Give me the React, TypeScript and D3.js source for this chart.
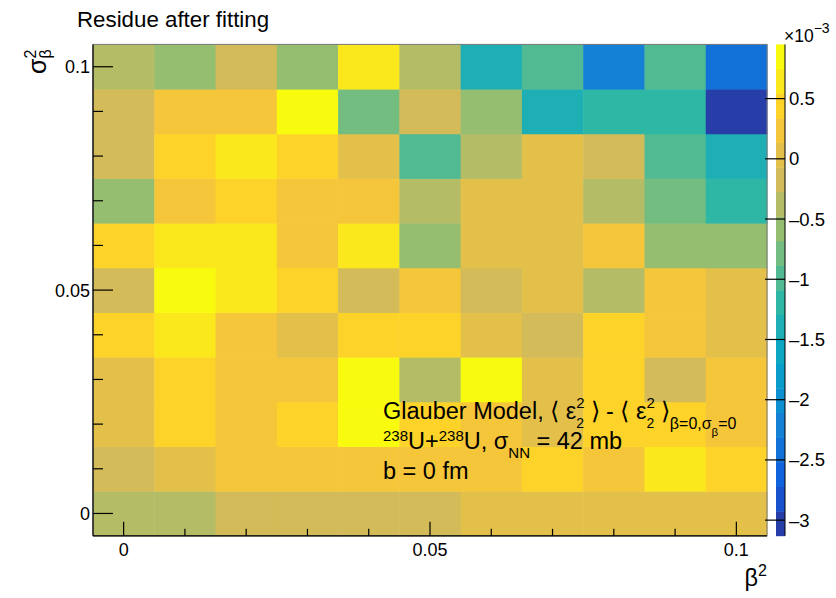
import React from "react";
import * as d3 from "d3";

const FONT = "'Liberation Sans', Arial, Helvetica, sans-serif";

// bin centres
const xBins = [0, 0.01, 0.02, 0.03, 0.04, 0.05, 0.06, 0.07, 0.08, 0.09, 0.1];
const yBins = [0, 0.01, 0.02, 0.03, 0.04, 0.05, 0.06, 0.07, 0.08, 0.09, 0.1];

// residue values (x 1e-3), one row per y bin, starting at y = 0
const row000 = [-0.37, -0.36, -0.18, -0.16, -0.17, -0.15, 0.02, 0.04, 0.03, 0.05, 0.02];
const row001 = [-0.17, 0.03, 0.23, 0.25, 0.24, 0.22, 0.26, 0.44, 0.25, 0.66, 0.45];
const row002 = [0.04, 0.43, 0.24, 0.45, 0.86, 0.44, 0.23, 0.02, 0.45, 0.43, 0.25];
const row003 = [0.03, 0.44, 0.25, 0.23, 0.88, -0.37, 0.87, 0.04, 0.46, -0.16, 0.24];
const row004 = [0.45, 0.64, 0.24, 0.03, 0.43, 0.44, 0.02, -0.17, 0.44, 0.25, 0.04];
const row005 = [-0.18, 0.95, 0.66, 0.45, -0.16, 0.24, -0.17, 0.03, -0.38, 0.23, 0.02];
const row006 = [0.44, 0.65, 0.64, 0.24, 0.66, -0.58, 0.03, 0.04, 0.25, -0.57, -0.59];
const row007 = [-0.58, 0.24, 0.45, 0.23, 0.25, -0.37, 0.03, 0.02, -0.38, -0.78, -1.19];
const row008 = [-0.17, 0.44, 0.65, 0.43, 0.03, -0.99, -0.37, 0.04, -0.18, -0.98, -1.4];
const row009 = [-0.16, 0.24, 0.25, 0.87, -0.78, -0.17, -0.58, -1.4, -1.19, -1.2, -3.13];
const row010 = [-0.37, -0.58, -0.17, -0.57, 0.66, -0.38, -1.41, -0.99, -2.21, -0.98, -2.42];
const rows = [row000, row001, row002, row003, row004, row005, row006, row007, row008, row009, row010];

const xTicksMajor = [0, 0.05, 0.1];
const xTickLabels = ["0", "0.05", "0.1"];
const yTicksMajor = [0, 0.05, 0.1];
const yTickLabels = ["0", "0.05", "0.1"];
const minorTicks = [0, 0.01, 0.02, 0.03, 0.04, 0.05, 0.06, 0.07, 0.08, 0.09, 0.1];
const zTicks = [0.5, 0, -0.5, -1, -1.5, -2, -2.5, -3];
const zTickLabels = ["0.5", "0", "\u20130.5", "\u20131", "\u20131.5", "\u20132", "\u20132.5", "\u20133"];

// kBird palette
const birdStops = [0, 0.125, 0.25, 0.375, 0.5, 0.625, 0.75, 0.875, 1];
const birdR = [0.2082, 0.0592, 0.078, 0.0232, 0.1802, 0.5301, 0.8186, 0.9956, 0.9764];
const birdG = [0.1664, 0.3599, 0.5041, 0.6419, 0.7178, 0.7492, 0.7328, 0.7862, 0.9832];
const birdB = [0.5293, 0.8684, 0.8385, 0.7914, 0.6425, 0.4662, 0.3499, 0.1968, 0.0539];
const NLEVELS = 20;
const NCOLORS = 255;

export default function App() {
  const W = 836, H = 598;
  const fx0 = 93, fx1 = 767, fy0 = 44.4, fy1 = 535.8;
  const x = d3.scaleLinear().domain([-0.005, 0.105]).range([fx0, fx1]);
  const y = d3.scaleLinear().domain([-0.005, 0.105]).range([fy1, fy0]);
  const all = rows.flat();
  const [zmin, zmax] = d3.extent(all) as [number, number];
  const z = d3.scaleLinear().domain([zmin, zmax]).range([fy1, fy0]);
  const grad = d3
    .scaleLinear<string>()
    .domain(birdStops)
    .range(birdStops.map((_, i) => d3.rgb(birdR[i] * 255, birdG[i] * 255, birdB[i] * 255).toString()))
    .interpolate(d3.interpolateRgb);
  const levelColor = (lvl: number) => {
    const idx = Math.floor((lvl + 0.99) * NCOLORS / NLEVELS);
    return grad(idx / (NCOLORS - 1));
  };
  const levelOf = (v: number) =>
    Math.max(0, Math.min(NLEVELS - 1, Math.floor(((v - zmin) / (zmax - zmin)) * NLEVELS)));
  const half = 0.005;
  const levels = d3.range(NLEVELS);
  const px0 = 776, px1 = 785;
  const TS = 18;
  const AS = 23.5;
  const SS = 15;

  return (
    <svg width={W} height={H} style={{ display: "block", position: "absolute", left: 0, top: 0 }} fontFamily={FONT}>
      <rect x={0} y={0} width={W} height={H} fill="#fff" />
      {/* cells */}
      {rows.map((r, j) =>
        r.map((v, i) => (
          <rect
            key={`c${i}-${j}`}
            x={x(xBins[i] - half)}
            y={y(yBins[j] + half)}
            width={x(xBins[i] + half) - x(xBins[i] - half) + 0.5}
            height={y(yBins[j] - half) - y(yBins[j] + half) + 0.5}
            fill={levelColor(levelOf(v))}
          />
        ))
      )}
      <rect x={fx0} y={fy0} width={fx1 - fx0} height={fy1 - fy0} fill="none" stroke="#777" strokeWidth={1} />
      {/* axes lines */}
      <line x1={fx0} x2={fx0} y1={fy0} y2={fy1} stroke="#000" strokeWidth={1.2} />
      <line x1={fx0} x2={fx1} y1={fy1} y2={fy1} stroke="#000" strokeWidth={1.2} />
      {/* x ticks */}
      {minorTicks.map((t) => (
        <line key={`xm${t}`} x1={x(t)} x2={x(t)} y1={fy1} y2={fy1 - (xTicksMajor.includes(t) ? 14 : 7)} stroke="#000" strokeWidth={1.2} />
      ))}
      {xTicksMajor.map((t, i) => (
        <text key={`xl${t}`} x={x(t)} y={556} fontSize={TS} textAnchor="middle">{xTickLabels[i]}</text>
      ))}
      {/* y ticks */}
      {minorTicks.map((t) => (
        <line key={`ym${t}`} x1={fx0} x2={fx0 + (yTicksMajor.includes(t) ? 20 : 10)} y1={y(t)} y2={y(t)} stroke="#000" strokeWidth={1.2} />
      ))}
      {yTicksMajor.map((t, i) => (
        <text key={`yl${t}`} x={90} y={y(t) + 6.5} fontSize={TS} textAnchor="end">{yTickLabels[i]}</text>
      ))}
      {/* palette */}
      {levels.map((l) => (
        <rect
          key={`p${l}`}
          x={px0}
          y={z(zmin + ((l + 1) * (zmax - zmin)) / NLEVELS)}
          width={px1 - px0}
          height={(fy1 - fy0) / NLEVELS + 0.4}
          fill={levelColor(l)}
        />
      ))}
      <line x1={px1} x2={px1} y1={fy0} y2={fy1} stroke="#000" strokeWidth={1} />
      {zTicks.map((t, i) => (
        <g key={`z${t}`}>
          <line x1={px1} x2={px1 - 20} y1={z(t)} y2={z(t)} stroke="#000" strokeWidth={1.2} />
          <text x={789} y={z(t) + 6.5} fontSize={18.5}>{zTickLabels[i]}</text>
        </g>
      ))}
      <text x={784} y={42} fontSize={17.5}>
        {"\u00d710"}
        <tspan dy={-9} fontSize={14}>{"\u22123"}</tspan>
      </text>
      {/* titles */}
      <text x={77} y={27} fontSize={22.3}>Residue after fitting</text>
      <text x={767} y={586} fontSize={23.5} textAnchor="end">
        {"\u03b2"}
        <tspan dy={-10} fontSize={16}>2</tspan>
      </text>
      <g transform={`translate(46, 50) rotate(-90)`}>
        <text x={0} y={0} fontSize={25}>
          <tspan x={-24}>{"\u03c3"}</tspan>
          <tspan dy={-10} fontSize={16}>2</tspan>
          <tspan dx={-8.9} dy={15} fontSize={16}>{"\u03b2"}</tspan>
        </text>
      </g>
      {/* annotation */}
      <g fontSize={AS}>
        <text x={383} y={419}>
          {"Glauber Model, \u27e8 \u03b5"}
          <tspan dy={-11} fontSize={SS}>2</tspan>
          <tspan dx={-8.3} dy={20} fontSize={14}>2</tspan>
          <tspan dy={-9} fontSize={AS}>{" \u27e9 - \u27e8 \u03b5"}</tspan>
          <tspan dy={-11} fontSize={SS}>2</tspan>
          <tspan dx={-8.3} dy={20} fontSize={14}>2</tspan>
          <tspan dy={-9} fontSize={AS}>{" \u27e9"}</tspan>
          <tspan dy={10} fontSize={16}>{"\u03b2=0,\u03c3"}</tspan>
          <tspan dy={7} fontSize={11.5}>{"\u03b2"}</tspan>
          <tspan dy={-7} fontSize={16}>=0</tspan>
        </text>
        <text x={383} y={449}>
          <tspan dy={-8} fontSize={SS}>238</tspan>
          <tspan dy={8}>U+</tspan>
          <tspan dy={-8} fontSize={SS}>238</tspan>
          <tspan dy={8}>{"U, \u03c3"}</tspan>
          <tspan dy={9} fontSize={SS}>NN</tspan>
          <tspan dy={-9}>{" = 42 mb"}</tspan>
        </text>
        <text x={383} y={479}>b = 0 fm</text>
      </g>
    </svg>
  );
}
